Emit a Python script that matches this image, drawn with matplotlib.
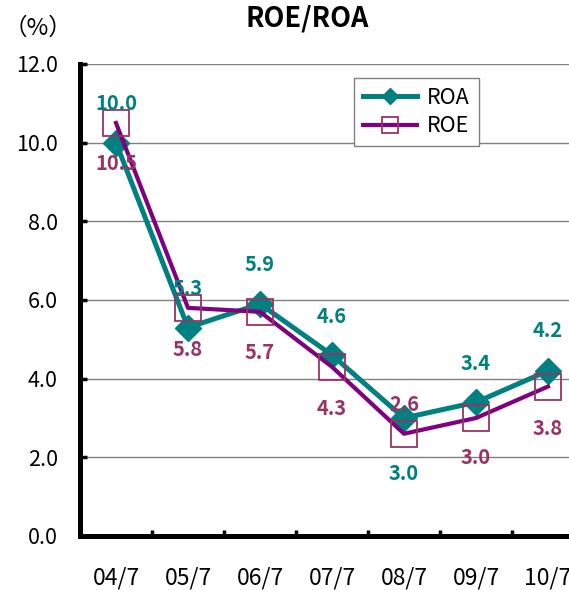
import matplotlib
matplotlib.use("Agg")
import matplotlib.pyplot as plt

plt.rcParams['font.family'] = ['Noto Sans CJK JP', 'DejaVu Sans']

# data
periods = ['04/7', '05/7', '06/7', '07/7', '08/7', '09/7', '10/7']
roa = [10.0, 5.3, 5.9, 4.6, 3.0, 3.4, 4.2]
roe = [10.5, 5.8, 5.7, 4.3, 2.6, 3.0, 3.8]

teal = '#008080'
purple = '#800080'
maroon = '#993366'

# label offsets in pixels (negative = above the point)
roa_off = [-39, -39, -39, -39, 55, -39, -40]
roe_off = [40, 42, 41, 42, -29, 40, 42]

fig = plt.figure(figsize=(5.69, 5.90), dpi=100)
ax = fig.add_axes([80 / 569, 54 / 590, 504 / 569, 472 / 590])

x = list(range(len(periods)))
ax.plot(x, roa, color=teal, lw=3.6, marker='D', ms=13,
        mfc=teal, mec=teal, label='ROA', zorder=3)
ax.plot(x, roe, color=purple, lw=3.0, marker='s', ms=19,
        mfc='none', mec=maroon, mew=1.3, label='ROE', zorder=4)

for i in x:
    ax.annotate(f'{roa[i]:.1f}', (i, roa[i]), xytext=(0, -roa_off[i] * 0.72),
                textcoords='offset points', ha='center', va='center',
                color=teal, fontsize=14.5, fontweight='bold', zorder=5)
    ax.annotate(f'{roe[i]:.1f}', (i, roe[i]), xytext=(0, -roe_off[i] * 0.72),
                textcoords='offset points', ha='center', va='center',
                color=maroon, fontsize=14.5, fontweight='bold', zorder=5)

ax.set_xlim(-0.5, 6.5)
ax.set_ylim(0, 12)
ax.set_yticks([0, 2, 4, 6, 8, 10, 12])
ax.set_yticklabels([f'{v:.1f}' for v in [0, 2, 4, 6, 8, 10, 12]], fontsize=15.5)
ax.set_xticks(x)
ax.set_xticklabels(periods, fontsize=16.5)
ax.set_xticks([i + 0.5 for i in x[:-1]], minor=True)

ax.tick_params(axis='x', which='major', length=0, pad=22)
ax.tick_params(axis='x', which='minor', direction='in', length=4, width=2.5)
ax.tick_params(axis='y', direction='in', length=5, width=2.5, pad=16)

ax.grid(axis='y', color='#808080', lw=1)
ax.set_axisbelow(True)
for s in ['top', 'right']:
    ax.spines[s].set_visible(False)
ax.spines['left'].set_linewidth(3.6)
ax.spines['bottom'].set_linewidth(3.6)

leg = ax.legend(loc='upper left', bbox_to_anchor=(0.544, 0.97), borderaxespad=0,
                fontsize=15.5, handlelength=2.5, markerscale=0.6,
                fancybox=False, edgecolor='#808080', framealpha=1,
                borderpad=0.4, labelspacing=0.3, handletextpad=0.5)
leg.get_frame().set_linewidth(1)

fig.text(307 / 569, 1 - 18 / 590, 'ROE/ROA', ha='center', va='center',
         fontsize=19.5, fontweight='bold')
fig.text(38 / 569, 1 - 28 / 590, '（%）', ha='center', va='center', fontsize=17)

fig.savefig('out.png', dpi=100)
